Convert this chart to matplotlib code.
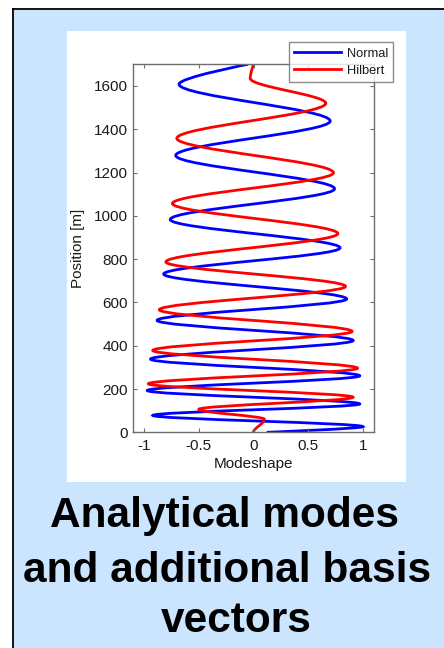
import matplotlib
matplotlib.use("Agg")
import matplotlib.pyplot as plt
from matplotlib.path import Path
from matplotlib.patches import PathPatch, Rectangle
from matplotlib.lines import Line2D

plt.rcParams['font.family'] = ['Liberation Sans', 'DejaVu Sans']
plt.rcParams['axes.unicode_minus'] = False

# Turning points of the two mode shapes (depth in m, modeshape value)
normal_depth = [0, 26, 78, 131, 193, 261, 338, 424, 517, 616, 731, 852, 983, 1125, 1279, 1438, 1608, 1700]
normal_value = [0.12, 1.00, -0.92, 0.97, -0.97, 0.97, -0.94, 0.91, -0.88, 0.85, -0.82, 0.79, -0.76, 0.74, -0.71, 0.70, -0.68, -0.05]
normal_turning = [False] + [True] * 16 + [False]

hilbert_depth = [0, 60, 106, 162, 224, 296, 378, 466, 566, 674, 787, 918, 1057, 1199, 1358, 1520, 1635, 1700]
hilbert_value = [0.00, 0.10, -0.50, 0.91, -0.96, 0.95, -0.92, 0.90, -0.86, 0.84, -0.80, 0.77, -0.74, 0.73, -0.70, 0.66, -0.03, 0.00]
hilbert_turning = [True] * 17 + [False]

x_ticks = [-1, -0.5, 0, 0.5, 1]
x_tick_labels = ['-1', '-0.5', '0', '0.5', '1']
y_ticks = [0, 200, 400, 600, 800, 1000, 1200, 1400, 1600]

title_lines = ['Analytical modes', 'and additional basis', 'vectors']


def mode_path(values, depths, turning, k=1 / 3):
    """Smooth cubic path through the turning points; the curve is vertical at each turning point."""
    verts = [(values[0], depths[0])]
    codes = [Path.MOVETO]
    for i in range(len(values) - 1):
        x0, y0 = values[i], depths[i]
        x1, y1 = values[i + 1], depths[i + 1]
        dy = y1 - y0
        c1 = (x0, y0 + k * dy) if turning[i] else (x0, y0)
        c2 = (x1, y1 - k * dy) if turning[i + 1] else (x1, y1)
        verts += [c1, c2, (x1, y1)]
        codes += [Path.CURVE4] * 3
    return Path(verts, codes)


W, H = 444, 648
fig = plt.figure(figsize=(W / 100, H / 100), dpi=100)
fig.patch.set_facecolor('white')

# light blue card with black top/left border
fig.add_artist(Rectangle((14 / W, 0), (W - 14) / W, (H - 10) / H, transform=fig.transFigure,
                         facecolor='#cce5ff', edgecolor='none', zorder=-3))
fig.add_artist(Line2D([12.5 / W, 1], [1 - 9.2 / H, 1 - 9.2 / H], transform=fig.transFigure,
                      color='black', lw=1.3, zorder=-2))
fig.add_artist(Line2D([13.2 / W, 13.2 / W], [0, 1 - 8.5 / H], transform=fig.transFigure,
                      color='black', lw=1.3, zorder=-2))
# white panel behind the plot
fig.add_artist(Rectangle((67 / W, 1 - 482 / H), 339 / W, 451.3 / H, transform=fig.transFigure,
                         facecolor='white', edgecolor='none', zorder=-1))

ax = fig.add_axes([133 / W, 1 - 432.3 / H, 241 / W, 368 / H])
ax.set_facecolor('white')

normal_color = '#0000ff'
hilbert_color = '#ff0000'
ax.add_patch(PathPatch(mode_path(normal_value, normal_depth, normal_turning), transform=ax.transData,
                       facecolor='none', edgecolor=normal_color, lw=2.0, capstyle='butt'))
ax.add_patch(PathPatch(mode_path(hilbert_value, hilbert_depth, hilbert_turning), transform=ax.transData,
                       facecolor='none', edgecolor=hilbert_color, lw=2.0, capstyle='butt'))

ax.set_xlim(-1.1, 1.1)
ax.set_ylim(0, 1700)
ax.set_xticks(x_ticks)
ax.set_xticklabels(x_tick_labels)
ax.set_yticks(y_ticks)

spine_color = '#6e6e6e'
for s in ax.spines.values():
    s.set_color(spine_color)
    s.set_linewidth(1.0)
ax.tick_params(direction='in', top=True, right=True, length=3, width=0.8,
               color=spine_color, labelsize=11, labelcolor='#1a1a1a')
ax.tick_params(axis='x', pad=4.5)
ax.tick_params(axis='y', pad=3.5)

ax.set_xlabel('Modeshape', fontsize=11, color='#1a1a1a')
ax.xaxis.set_label_coords(0.5, -0.068)
ax.set_ylabel('Position [m]', fontsize=11, color='#1a1a1a')
ax.yaxis.set_label_coords(-0.198, 0.5)

handles = [Line2D([], [], color=normal_color, lw=2.0),
           Line2D([], [], color=hilbert_color, lw=2.0)]
leg = fig.legend(handles, ['Normal', 'Hilbert'], loc='upper right',
                 bbox_to_anchor=(393.3 / W, 1 - 42.3 / H), bbox_transform=fig.transFigure,
                 borderaxespad=0, fontsize=9.3, frameon=True, fancybox=False,
                 handlelength=3.6, handletextpad=0.45, borderpad=0.42, labelspacing=0.38)
leg.get_frame().set_edgecolor('#6e6e6e')
leg.get_frame().set_linewidth(1.0)
for t in leg.get_texts():
    t.set_color('#1a1a1a')

# caption under the plot
baselines = [527, 582, 632]
centers = [224, 227.5, 236.5]
for line, yb, xc in zip(title_lines, baselines, centers):
    fig.text(xc / W, 1 - yb / H, line, ha='center', va='baseline',
             fontsize=30.5, fontweight='bold', color='black')

fig.savefig('out.png', dpi=100)
